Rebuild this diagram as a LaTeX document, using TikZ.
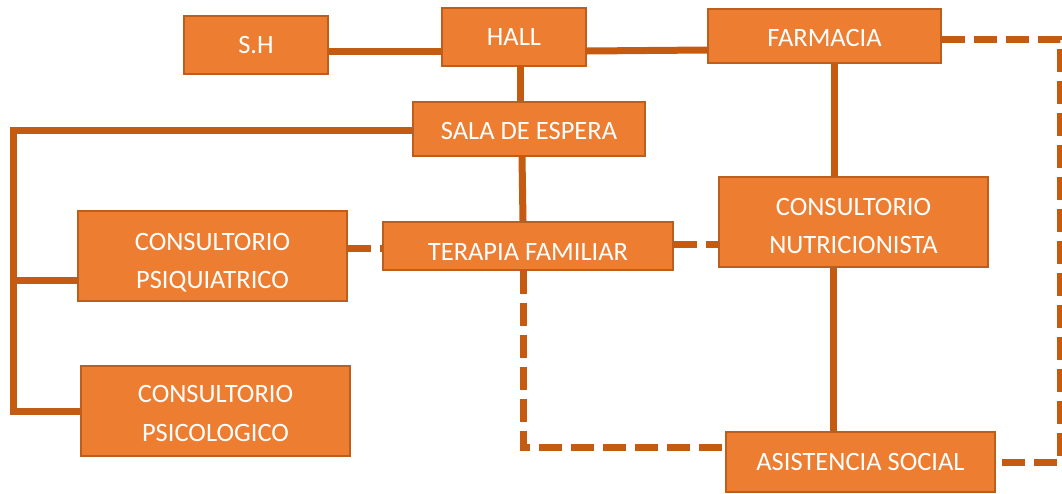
\documentclass[tikz,border=0pt]{standalone}
\usepackage{fontspec}
\setmainfont{Carlito}
\definecolor{boxfill}{HTML}{ED7D31}
\definecolor{boxedge}{HTML}{BE5E1C}
\definecolor{linec}{HTML}{C55A11}
\newcommand{\topstrut}[1]{\rule{0pt}{#1pt}}
\newcommand{\botstrut}{\rule[-4pt]{0pt}{4pt}}
\begin{document}
\begin{tikzpicture}[x=1pt,y=-1pt,
  box/.style={rectangle, fill=boxfill, draw=boxedge, line width=2pt, text=white, align=center,
    font=\fontsize{26.5}{38.5}\selectfont, inner sep=0pt},
  conn/.style={draw=linec, line width=7pt},
  dashc/.style={draw=linec, line width=7pt, dash pattern=on 23pt off 9pt}]
\useasboundingbox (0,0) rectangle (1062,493);
% nodes
\node[box, minimum width=144pt, minimum height=58pt] (sh) at (256,45) {\topstrut{17}S.H};
\node[box, minimum width=144pt, minimum height=58pt] (hall) at (514,37) {\topstrut{17}HALL};
\node[box, minimum width=233pt, minimum height=54pt] (farm) at (824.5,36) {\topstrut{22}FARMACIA};
\node[box, minimum width=232pt, minimum height=54pt] (sala) at (529,129) {\topstrut{22}SALA DE ESPERA};
\node[box, minimum width=269pt, minimum height=90pt] (psiq) at (212.5,256) {\topstrut{31}CONSULTORIO\\PSIQUIATRICO\botstrut};
\node[box, minimum width=269pt, minimum height=90pt] (psico) at (215.5,411) {\topstrut{26}CONSULTORIO\\PSICOLOGICO\botstrut};
\node[box, minimum width=290pt, minimum height=48pt] (ter) at (528,246) {\topstrut{29}TERAPIA FAMILIAR};
\node[box, minimum width=269pt, minimum height=90pt] (nutri) at (853.5,222) {\topstrut{29}CONSULTORIO\\NUTRICIONISTA\botstrut};
\node[box, minimum width=269pt, minimum height=60pt] (asis) at (860.5,462) {\topstrut{16}ASISTENCIA SOCIAL};
% helper coordinates
\coordinate (trunk) at (13,0);
\coordinate (jn) at (13,280);
\coordinate (rt) at (1060,0);
% solid connectors
\draw[conn] ([yshift=-6pt]sh.east) -- ([yshift=-14pt]hall.west);
\draw[conn] ([yshift=-14pt]hall.east) -- ([yshift=-14pt]farm.west);
\draw[conn] ([xshift=6pt]hall.south) -- ([xshift=-9pt]sala.north);
\draw[conn] ([xshift=-7pt]sala.south) -- ([xshift=-5pt]ter.north);
\draw[conn] ([yshift=-1pt]sala.west) -| (trunk |- psico.west) -- (psico.west);
\draw[conn] (jn) -- (jn -| psiq.west);
\draw[conn] ([xshift=9.5pt]farm.south) -- ([xshift=-19.5pt]nutri.north);
\draw[conn] ([xshift=-20.5pt]nutri.south) -- ([xshift=-27.5pt]asis.north);
% dashed connectors
\draw[dashc] ([yshift=8pt]psiq.east) -- ([yshift=-2pt]ter.west);
\draw[dashc] ([yshift=2pt]ter.east) -- ([yshift=-22pt]nutri.west);
\draw[dashc] ([xshift=-5pt]ter.south) |- ([yshift=15pt]asis.west);
\draw[dashc] ([yshift=-3pt]farm.east) -| (rt |- asis.east) -- (asis.east);
\end{tikzpicture}
\end{document}
